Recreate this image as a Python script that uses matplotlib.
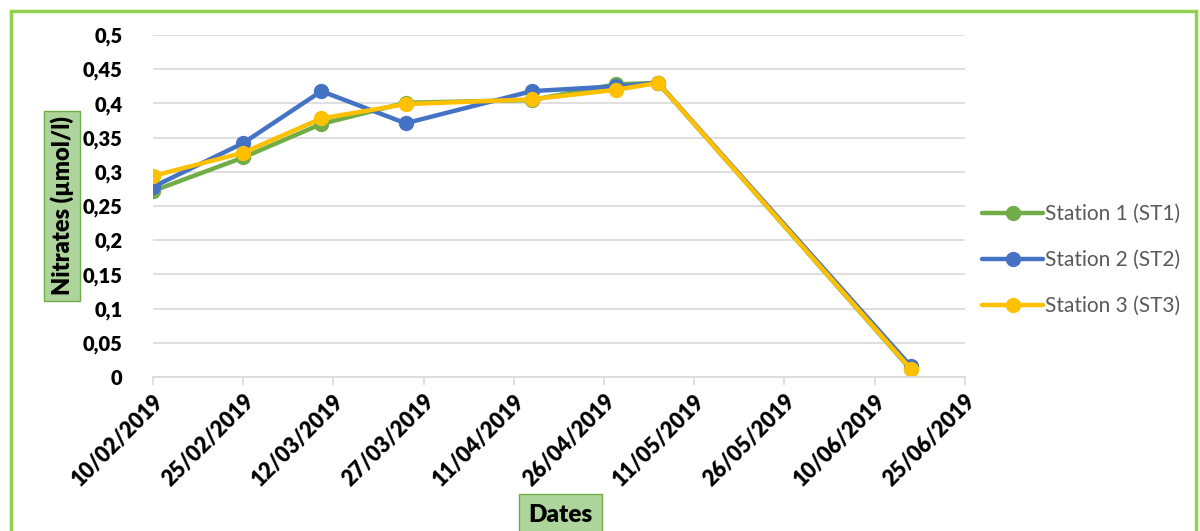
import numpy as np
import matplotlib.pyplot as plt
from matplotlib.patches import Rectangle
from datetime import datetime, timedelta

dates = ["10/02/2019", "25/02/2019", "10/03/2019", "24/03/2019",
         "14/04/2019", "28/04/2019", "05/05/2019", "16/06/2019"]
st1 = [0.272, 0.321, 0.370, 0.401, 0.405, 0.428, 0.430, 0.011]
st2 = [0.278, 0.342, 0.418, 0.371, 0.418, 0.425, 0.430, 0.016]
st3 = [0.294, 0.328, 0.378, 0.399, 0.406, 0.420, 0.430, 0.012]
labels = ["Station 1 (ST1)", "Station 2 (ST2)", "Station 3 (ST3)"]
colors = ["#70AD47", "#4472C4", "#FFC000"]
ytick_labels = ["0", "0,05", "0,1", "0,15", "0,2", "0,25", "0,3",
                "0,35", "0,4", "0,45", "0,5"]

x = [datetime.strptime(d, "%d/%m/%Y") for d in dates]
start = datetime(2019, 2, 10)
ticks = [start + timedelta(days=15 * i) for i in range(10)]

plt.rcParams['font.family'] = ['Lato', 'DejaVu Sans']

fig = plt.figure(figsize=(12, 5.31), dpi=100)
ax = fig.add_axes([0.1275, 0.29, 0.6765, 0.644])

for ys, lab, c in zip([st1, st2, st3], labels, colors):
    ax.plot(x, ys, color=c, lw=3.2, marker='o', ms=10, label=lab,
            solid_capstyle='round', solid_joinstyle='round')

ax.set_xlim(ticks[0], ticks[-1])
ax.set_ylim(0, 0.5)
ax.set_yticks(np.arange(0, 0.501, 0.05))
ax.set_yticklabels(ytick_labels, fontweight='heavy', fontsize=14.5)
ax.set_xticks(ticks)
ax.set_xticklabels([t.strftime("%d/%m/%Y") for t in ticks], rotation=45,
                   ha='right', rotation_mode='anchor', fontweight='heavy', fontsize=15.5)

ax.grid(axis='y', color='#D9D9D9', lw=1.2)
ax.set_axisbelow(True)
for s in ['top', 'right', 'left']:
    ax.spines[s].set_visible(False)
ax.spines['bottom'].set_color('#D9D9D9')
ax.spines['bottom'].set_linewidth(1.2)
ax.tick_params(axis='y', length=0, pad=22)
ax.tick_params(axis='x', length=6, color='#D9D9D9', width=1.2, pad=4)

box = dict(boxstyle='square,pad=0.25', facecolor='#ADD49A', edgecolor='#70AD47', lw=1)
fig.text(0.0515, 0.612, "Nitrates (µmol/l)", rotation=90, ha='center', va='center',
         fontweight='heavy', fontsize=17, bbox=box)
fig.text(0.467, 0.03, "Dates", ha='center', va='center',
         fontweight='heavy', fontsize=17.5,
         bbox=dict(boxstyle='square,pad=0.4', facecolor='#ADD49A', edgecolor='#70AD47', lw=1))

leg = fig.legend(loc='center left', bbox_to_anchor=(0.803, 0.51), frameon=False,
                 fontsize=15, handlelength=2.9, labelspacing=1.25, handletextpad=0.1)
for t in leg.get_texts():
    t.set_color('#595959')

fig.patches.append(Rectangle((0.009, -0.02), 0.988, 0.999, transform=fig.transFigure,
                             fill=False, edgecolor='#92D050', lw=2.5))

fig.savefig("out.png", dpi=100)
